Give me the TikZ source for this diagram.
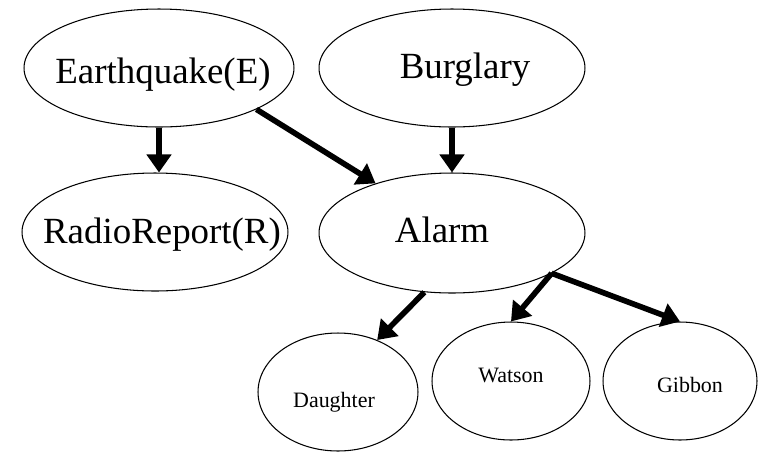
\documentclass[tikz,border=0pt]{standalone}
\usepackage{fontspec}
\setmainfont{Liberation Serif}
\usetikzlibrary{shapes.geometric}
\usetikzlibrary{arrows.meta}

\begin{document}
\begin{tikzpicture}[x=0.02cm,y=-0.02cm,
  oval/.style={draw=black,ellipse,line width=0.6pt,inner sep=0pt},
  bigtxt/.style={font=\fontsize{21}{25}\selectfont,anchor=base,inner sep=0pt},
  smalltxt/.style={font=\fontsize{12.5}{15}\selectfont,anchor=base,inner sep=0pt},
  bnarrow/.style={line width=3.2pt,-{Triangle[length=0.36cm,width=0.48cm]}}]
\useasboundingbox (0,0) rectangle (758,451);

\node[oval,minimum width=5.4cm,minimum height=2.36cm] (eq) at (159,68) {};
\node[oval,minimum width=5.32cm,minimum height=2.36cm] (burglary) at (452,68) {};
\node[oval,minimum width=5.32cm,minimum height=2.36cm] (radio) at (155,232) {};
\node[oval,minimum width=5.32cm,minimum height=2.4cm] (alarm) at (452,233) {};
\node[oval,minimum width=3.2cm,minimum height=2.36cm] (daughter) at (338,392) {};
\node[oval,minimum width=3.16cm,minimum height=2.36cm] (watson) at (511,381) {};
\node[oval,minimum width=3.08cm,minimum height=2.36cm] (gibbon) at (680,381) {};

\node[bigtxt] (eqtxt) at (163,83) {Earthquake(E)};
\node[bigtxt] (burglarytxt) at (465,78) {Burglary};
\node[bigtxt] (radiotxt) at (162,243) {RadioReport(R)};
\node[bigtxt] (alarmtxt) at (442,242) {Alarm};
\node[smalltxt] (daughtertxt) at (334,407) {Daughter};
\node[smalltxt] (watsontxt) at (511,382) {Watson};
\node[smalltxt] (gibbontxt) at (690,392) {Gibbon};

\draw[bnarrow] (eq.south) -- (eq.south |- radio.north);
\draw[bnarrow] (eq.-23) -- (alarm.147);
\draw[bnarrow] (burglary.south) -- (alarm.north);
\draw[bnarrow] (alarm.-115) -- (daughter.53);
\draw[bnarrow] (alarm.-22) -- (watson.north);
\draw[bnarrow] (alarm.-22) -- (gibbon.north);

\end{tikzpicture}
\end{document}
